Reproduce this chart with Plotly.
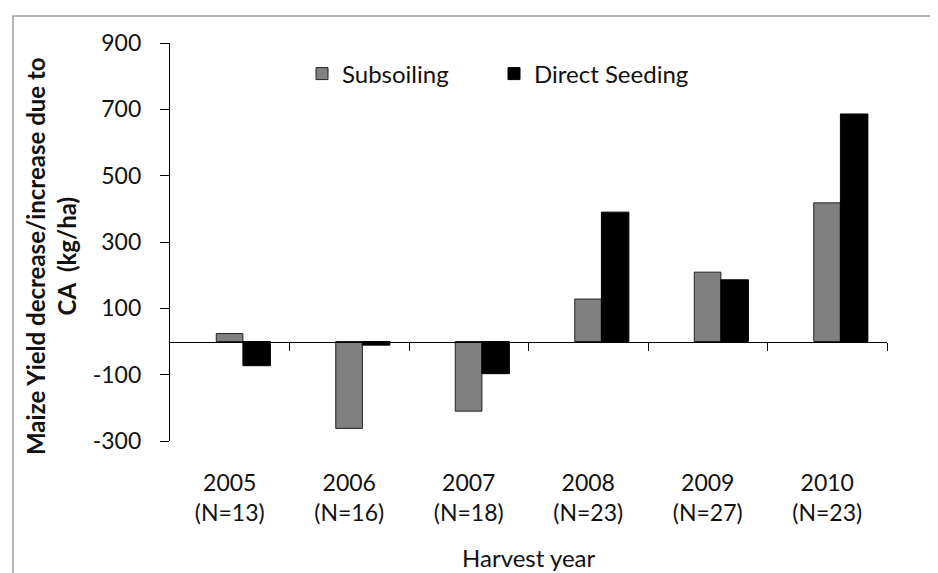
import plotly.graph_objects as go

years = ["2005", "2006", "2007", "2008", "2009", "2010"]
n_obs = [13, 16, 18, 23, 27, 23]
subsoiling = [24, -262, -210, 128, 209, 418]
direct_seeding = [-73, -11, -97, 390, 186, 686]
y_ticks = [-300, -100, 100, 300, 500, 700, 900]

tick_text = [f"{y}<br>(N={n})" for y, n in zip(years, n_obs)]
xpos = list(range(len(years)))

FONT = "Lato"
TXT = "#111111"
# the page body has an 8px margin, so the figure is drawn 8px smaller and
# all reference pixel positions are shifted by that offset
OFF = 8
W, H = 938 - OFF, 573 - OFF
# plot area in reference pixel coordinates
PL, PR, PT, PB = 170, 887, 43, 441
ML, MR, MT, MB = PL - OFF, W - (PR - OFF), PT - OFF, H - (PB - OFF)
PW = PR - PL
PH = PB - PT

def px_x(p):
    return (p - PL) / PW

def px_y(p):
    return (PB - p) / PH

fig = go.Figure()
fig.add_trace(go.Bar(
    x=xpos, y=subsoiling, name="Subsoiling", legend="legend",
    width=0.223, offset=-0.113,
    marker=dict(color="#808080", line=dict(color="#222222", width=1)),
))
fig.add_trace(go.Bar(
    x=xpos, y=direct_seeding, name="Direct Seeding", legend="legend2",
    width=0.23, offset=0.11,
    marker=dict(color="#000000", line=dict(color="#000000", width=1)),
))
# invisible trace carrying the axis drawn along zero
fig.add_trace(go.Scatter(x=[None], y=[None], xaxis="x2", showlegend=False, hoverinfo="skip"))

legend_common = dict(
    orientation="h", xanchor="left", yanchor="middle",
    font=dict(family=FONT, size=24, color=TXT),
    bgcolor="rgba(0,0,0,0)",
)

fig.update_layout(
    width=W, height=H,
    margin=dict(l=ML, r=MR, t=MT, b=MB, autoexpand=False),
    paper_bgcolor="white", plot_bgcolor="white",
    font=dict(family=FONT, size=23, color=TXT),
    barmode="overlay",
    showlegend=True,
    legend=dict(x=px_x(302), y=px_y(74), **legend_common),
    legend2=dict(x=px_x(494), y=px_y(74), **legend_common),
    xaxis=dict(
        range=[-0.5, 5.5], tickmode="array", tickvals=xpos, ticktext=tick_text,
        showline=False, ticks="", showgrid=False, zeroline=False,
        ticklabelstandoff=26,
        tickfont=dict(family=FONT, size=23, color=TXT),
    ),
    xaxis2=dict(
        range=[-0.5, 5.5], overlaying="x", anchor="free", position=0.25,
        side="bottom",
        tickmode="array", tickvals=[0.5, 1.5, 2.5, 3.5, 4.5, 5.5],
        showticklabels=False, ticks="outside", ticklen=8, tickcolor="black", tickwidth=1.3,
        showline=True, linecolor="black", linewidth=1.3, showgrid=False, zeroline=False,
    ),
    yaxis=dict(
        range=[-300, 900], tickmode="array", tickvals=y_ticks,
        ticktext=[str(v) for v in y_ticks],
        showline=True, linecolor="black", linewidth=1.3,
        ticks="outside", ticklen=9, tickcolor="black", tickwidth=1.3,
        ticklabelstandoff=14,
        showgrid=False, zeroline=False,
        tickfont=dict(family=FONT, size=23, color=TXT),
    ),
    annotations=[
        dict(
            text="<b>Maize Yield decrease/increase due to<br>CA  (kg/ha)</b>",
            xref="paper", yref="paper", x=px_x(51), y=px_y(256),
            xanchor="center", yanchor="middle", textangle=-90, showarrow=False,
            font=dict(family=FONT, size=24, color=TXT),
        ),
        dict(
            text="Harvest year",
            xref="paper", yref="paper", x=0.5, y=px_y(557),
            xanchor="center", yanchor="middle", showarrow=False,
            font=dict(family=FONT, size=24, color=TXT),
        ),
    ],
    shapes=[dict(
        type="rect", xref="paper", yref="paper",
        x0=px_x(13), x1=px_x(990), y0=px_y(640), y1=px_y(16),
        line=dict(color="#a0a0a0", width=1.5), fillcolor="rgba(0,0,0,0)", layer="below",
    )],
)

fig.write_html("out.html")
